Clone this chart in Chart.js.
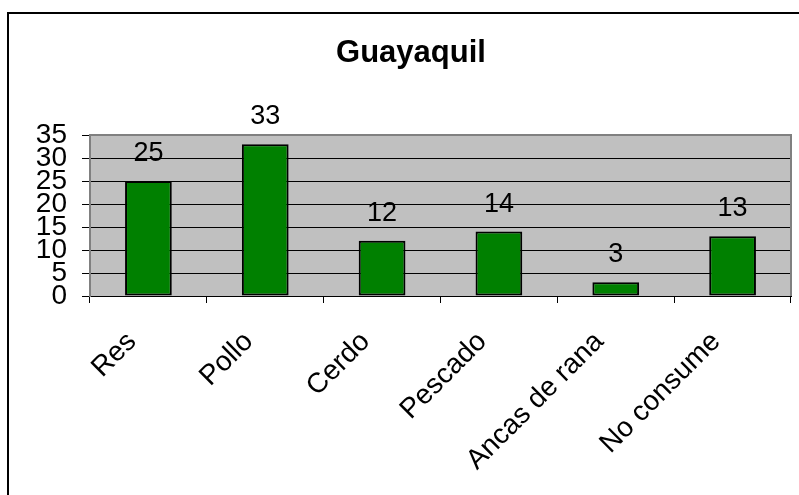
<!DOCTYPE html>
<html><head><meta charset="utf-8">
<script src="https://cdn.jsdelivr.net/npm/chart.js@4/dist/chart.umd.min.js"></script>
<style>html,body{margin:0;padding:0;background:#fff}#wrap{width:799px;height:495px;position:relative}</style>
</head><body><div id="wrap"><canvas id="c" width="799" height="495"></canvas></div>
<script>
const chartTitle = 'Guayaquil';
const categories = ['Res', 'Pollo', 'Cerdo', 'Pescado', 'Ancas de rana', 'No consume'];
const values = [25, 33, 12, 14, 3, 13];
const yMin = 0, yMax = 35, yStep = 5;

const FONT = '"Liberation Sans", Arial, sans-serif';

const decor = {
  id: 'decor',
  beforeDraw(chart) {
    const ctx = chart.ctx, a = chart.chartArea;
    ctx.save();
    ctx.fillStyle = '#ffffff';
    ctx.fillRect(0, 0, chart.width, chart.height);
    ctx.fillStyle = '#c0c0c0';
    ctx.fillRect(a.left, a.top, a.right - a.left, a.bottom - a.top);
    ctx.restore();
  },
  afterDraw(chart) {
    const ctx = chart.ctx, a = chart.chartArea;
    ctx.save();
    ctx.strokeStyle = '#808080';
    ctx.lineWidth = 2;
    ctx.beginPath();
    ctx.moveTo(a.left, a.top); ctx.lineTo(a.right, a.top); ctx.lineTo(a.right, a.bottom);
    ctx.stroke();
    ctx.strokeStyle = '#000000';
    ctx.lineWidth = 2;
    ctx.beginPath();
    ctx.moveTo(8, chart.height + 5); ctx.lineTo(8, 13); ctx.lineTo(chart.width + 5, 13);
    ctx.stroke();
    ctx.fillStyle = '#000';
    ctx.font = 'bold 31px ' + FONT;
    ctx.textAlign = 'center';
    ctx.textBaseline = 'alphabetic';
    ctx.fillText(chartTitle, 411, 62);
    ctx.font = '27px ' + FONT;
    const meta = chart.getDatasetMeta(0);
    meta.data.forEach((bar, i) => {
      ctx.fillText(String(values[i]), bar.x, bar.y - 20);
    });
    ctx.restore();
  }
};

new Chart(document.getElementById('c'), {
  type: 'bar',
  data: {
    labels: categories,
    datasets: [{
      data: values,
      backgroundColor: '#008000',
      borderColor: '#000000',
      borderWidth: 2,
      borderSkipped: false,
      categoryPercentage: 1,
      barPercentage: 0.4
    }]
  },
  options: {
    responsive: false,
    devicePixelRatio: 1,
    animation: false,
    layout: { padding: { top: 135, right: 8, left: 0, bottom: 0 } },
    plugins: { legend: { display: false }, title: { display: false }, tooltip: { enabled: false } },
    scales: {
      x: {
        afterFit(s) { s.height = 199; },
        grid: { display: true, drawOnChartArea: false, offset: true, color: '#000', tickLength: 7 },
        border: { display: true, color: '#000', width: 1 },
        ticks: {
          autoSkip: false, maxRotation: 45, minRotation: 45, color: '#000',
          font: { family: FONT, size: 28 }, padding: 6,
          callback: (v, i) => categories[i] + '\u00a0\u00a0\u00a0'
        }
      },
      y: {
        min: yMin, max: yMax,
        afterFit(s) { s.width = 90; },
        grid: { color: '#000', lineWidth: 1, tickLength: 8 },
        border: { display: true, color: '#808080', width: 2 },
        ticks: { stepSize: yStep, autoSkip: false, color: '#000', font: { family: FONT, size: 28 }, padding: 15 }
      }
    }
  },
  plugins: [decor]
});
</script></body></html>
